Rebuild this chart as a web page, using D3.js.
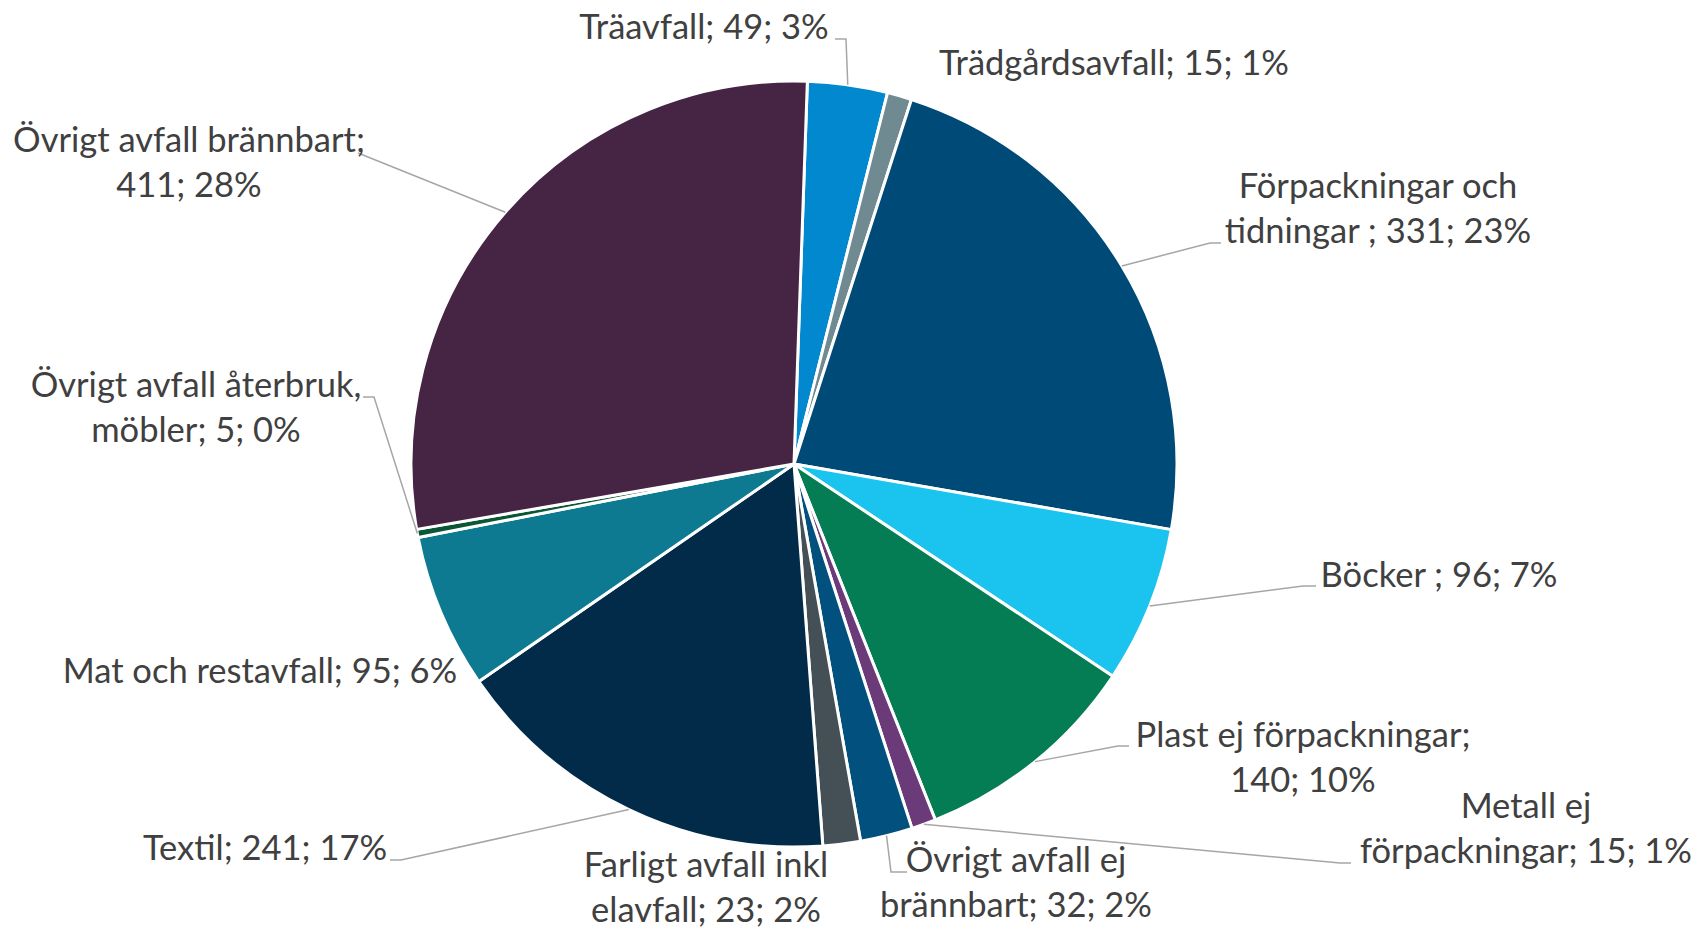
<!doctype html>
<html lang="sv">
<head>
<meta charset="utf-8">
<title>avfall pie</title>
<script src="https://d3js.org/d3.v7.min.js"></script>
<style>
  body { margin: 0; background: #fff; }
  text { fill: #404040; font-family: Lato, 'Open Sans', sans-serif; font-size: 34.5px; }
  .leader { stroke: #a6a6a6; stroke-width: 1.5; fill: none; }
</style>
</head>
<body>
<div id="chart"></div>
<script>
// data, clockwise from the top
var categories = ["Träavfall", "Trädgårdsavfall", "Förpackningar och tidningar ", "Böcker ",
  "Plast ej förpackningar", "Metall ej förpackningar", "Övrigt avfall ej brännbart",
  "Farligt avfall inkl elavfall", "Textil", "Mat och restavfall",
  "Övrigt avfall återbruk, möbler", "Övrigt avfall brännbart"];
var values = [49, 15, 331, 96, 140, 15, 32, 23, 241, 95, 5, 411];
var percents = ["3%", "1%", "23%", "7%", "10%", "1%", "2%", "2%", "17%", "6%", "0%", "28%"];
// how the label text wraps in the picture
var labelLines = [
  ["Träavfall; 49; 3%"],
  ["Trädgårdsavfall; 15; 1%"],
  ["Förpackningar och", "tidningar ; 331; 23%"],
  ["Böcker ; 96; 7%"],
  ["Plast ej förpackningar;", "140; 10%"],
  ["Metall ej", "förpackningar; 15; 1%"],
  ["Övrigt avfall ej", "brännbart; 32; 2%"],
  ["Farligt avfall inkl", "elavfall; 23; 2%"],
  ["Textil; 241; 17%"],
  ["Mat och restavfall; 95; 6%"],
  ["Övrigt avfall återbruk,", "möbler; 5; 0%"],
  ["Övrigt avfall brännbart;", "411; 28%"]
];
var colors = ["#0288ce", "#6f8a91", "#004a77", "#1ac4ee", "#047d55", "#6b3a78",
  "#02507e", "#445055", "#012b48", "#0d7a92", "#0b5638", "#452444"];

// layout: label centre x, first baseline y; leader [text end x, elbow x, y]
var labelPos = [[704, 39], [1114, 75], [1378, 198], [1439, 587], [1303, 747], [1526, 818],
  [1016, 872], [706, 877], [265, 860], [260, 683], [196, 397], [189, 152]];
var leaders = [[835, 846, 39], null, [1221, 1210, 243], [1316, 1303, 586], [1129, 1118, 746],
  [1351, 1340, 863], [907, 891, 872], null, [390, 401, 860], null, [363, 374, 397], [358, 358, 153]];

var width = 1693, height = 929;
var cx = 794, cy = 464, radius = 383;
var firstAngle = 2 * Math.PI / 180;
var lineGap = 45;

var svg = d3.select("#chart").append("svg")
  .attr("width", width)
  .attr("height", height);

var g = svg.append("g").attr("transform", "translate(" + cx + "," + cy + ")");

var pie = d3.pie().sort(null).value(function(d) { return d; })
  .startAngle(firstAngle).endAngle(firstAngle + 2 * Math.PI);
var arcs = pie(values);

var arc = d3.arc().innerRadius(0).outerRadius(radius);
var edge = d3.arc().innerRadius(radius).outerRadius(radius);

g.selectAll("path.slice").data(arcs).enter().append("path")
  .attr("class", "slice")
  .attr("d", arc)
  .attr("fill", function(d, i) { return colors[i]; })
  .attr("stroke", "#fff")
  .attr("stroke-width", 3)
  .attr("stroke-linejoin", "round");

// leader lines go from the label to the slice edge at its mid angle
arcs.forEach(function(d, i) {
  var l = leaders[i];
  if (!l) return;
  var p = edge.centroid(d);
  svg.append("polyline")
    .attr("class", "leader")
    .attr("points", [[l[0], l[2]], [l[1], l[2]], [cx + p[0], cy + p[1]]].join(" "));
});

var labels = svg.selectAll("text.lbl").data(arcs).enter().append("text")
  .attr("class", "lbl")
  .attr("text-anchor", "middle");

labels.each(function(d, i) {
  var t = d3.select(this);
  labelLines[i].forEach(function(s, k) {
    t.append("tspan")
      .attr("x", labelPos[i][0])
      .attr("y", labelPos[i][1] + k * lineGap)
      .text(s);
  });
});
</script>
</body>
</html>
